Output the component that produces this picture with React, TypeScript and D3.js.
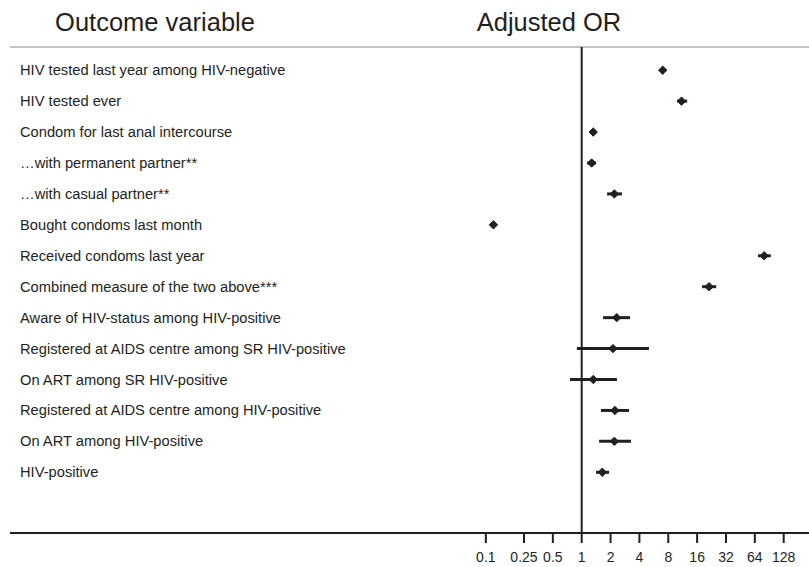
import React, { useEffect, useRef } from "react";
import * as d3 from "d3";

// outcome rows, top to bottom
const outcomes = [
  "HIV tested last year among HIV-negative",
  "HIV tested ever",
  "Condom for last anal intercourse",
  "\u2026with permanent partner**",
  "\u2026with casual partner**",
  "Bought condoms last month",
  "Received condoms last year",
  "Combined measure of the two above***",
  "Aware of HIV-status among HIV-positive",
  "Registered at AIDS centre among SR HIV-positive",
  "On ART among SR HIV-positive",
  "Registered at AIDS centre among HIV-positive",
  "On ART among HIV-positive",
  "HIV-positive",
];

// adjusted odds ratios with 95% CI
const orValues = [7.0, 11.0, 1.32, 1.27, 2.19, 0.12, 80, 21.3, 2.32, 2.12, 1.32, 2.22, 2.19, 1.64];
const ciLower = [6.7, 9.9, 1.25, 1.14, 1.84, 0.115, 69, 18.0, 1.67, 0.89, 0.755, 1.59, 1.52, 1.41];
const ciUpper = [7.3, 12.6, 1.4, 1.41, 2.63, 0.125, 94, 25.3, 3.19, 5.03, 2.33, 3.12, 3.27, 1.93];

const tickValues = [0.1, 0.25, 0.5, 1, 2, 4, 8, 16, 32, 64, 128];

const width = 809;
const height = 567;
const ink = "#231f20";
const font = "'Liberation Sans', Arial, sans-serif";

export default function App() {
  const ref = useRef<SVGSVGElement>(null);

  useEffect(() => {
    const svg = d3.select(ref.current);
    svg.selectAll("*").remove();

    const x = d3.scaleLog().base(2).domain([1, 128]).range([581.7, 783.7]);
    const y = d3.scalePoint().domain(outcomes).range([70.2, 472.3]);

    // headers
    svg.append("text")
      .attr("x", 155).attr("y", 31)
      .attr("text-anchor", "middle")
      .attr("font-family", font).attr("font-size", 25.5)
      .attr("fill", ink)
      .text("Outcome variable");
    svg.append("text")
      .attr("x", 549).attr("y", 31)
      .attr("text-anchor", "middle")
      .attr("font-family", font).attr("font-size", 25.5)
      .attr("fill", ink)
      .text("Adjusted OR");

    // grey rule under headers
    svg.append("line")
      .attr("x1", 10).attr("x2", width)
      .attr("y1", 47).attr("y2", 47)
      .attr("stroke", "#c4c4c4").attr("stroke-width", 2);

    // reference line at OR = 1
    svg.append("line")
      .attr("x1", x(1)).attr("x2", x(1))
      .attr("y1", 47).attr("y2", 533)
      .attr("stroke", ink).attr("stroke-width", 2);

    // x axis
    const axis = svg.append("g").attr("transform", "translate(0,533)");
    axis.append("line")
      .attr("x1", 10).attr("x2", width)
      .attr("stroke", ink).attr("stroke-width", 2);
    const ticks = axis.selectAll("g.tick")
      .data(tickValues)
      .join("g")
      .attr("class", "tick")
      .attr("transform", (d) => `translate(${x(d)},0)`);
    ticks.append("line").attr("y2", 10).attr("stroke", ink).attr("stroke-width", 2);
    ticks.append("text")
      .attr("y", 29)
      .attr("text-anchor", "middle")
      .attr("font-family", font).attr("font-size", 14)
      .attr("fill", ink)
      .text((d) => String(d));

    // row labels
    svg.append("g")
      .selectAll("text")
      .data(outcomes)
      .join("text")
      .attr("x", 20)
      .attr("y", (d) => (y(d) ?? 0) + 5)
      .attr("font-family", font).attr("font-size", 14.7)
      .attr("fill", ink)
      .text((d) => d);

    // confidence intervals
    const rows = outcomes.map((name, i) => ({ name, or: orValues[i], lo: ciLower[i], hi: ciUpper[i] }));
    svg.append("g")
      .selectAll("line")
      .data(rows)
      .join("line")
      .attr("x1", (d) => x(d.lo)).attr("x2", (d) => x(d.hi))
      .attr("y1", (d) => y(d.name) ?? 0).attr("y2", (d) => y(d.name) ?? 0)
      .attr("stroke", ink).attr("stroke-width", 3);

    // point estimates
    const r = 4.2;
    svg.append("g")
      .selectAll("path")
      .data(rows)
      .join("path")
      .attr("transform", (d) => `translate(${x(d.or)},${y(d.name)})`)
      .attr("d", `M0,${-r}L${r},0L0,${r}L${-r},0Z`)
      .attr("fill", ink)
      .attr("stroke", ink).attr("stroke-width", 1).attr("stroke-linejoin", "round");
  }, []);

  return (
    <svg
      ref={ref}
      width={width}
      height={height}
      style={{ position: "absolute", left: 0, top: 0, background: "#fff" }}
    />
  );
}
